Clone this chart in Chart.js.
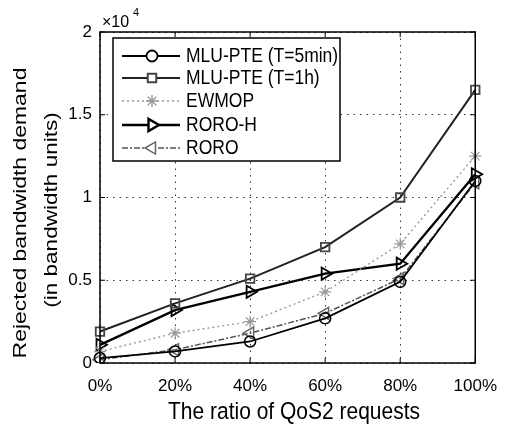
<!DOCTYPE html>
<html>
<head>
<meta charset="utf-8">
<script src="https://cdn.jsdelivr.net/npm/chart.js@4/dist/chart.umd.min.js"></script>
<style>
  html, body { margin: 0; padding: 0; background: #fff; }
  #wrap { width: 510px; height: 428px; }
</style>
</head>
<body>
<div id="wrap"><canvas id="myChart" width="510" height="428"></canvas></div>
<script>
// Datos del gráfico (x10^4 unidades)
const ratios = ['0%', '20%', '40%', '60%', '80%', '100%'];
const mluPte5min = [0.03, 0.07, 0.13, 0.27, 0.49, 1.10];
const mluPte1h = [0.19, 0.36, 0.51, 0.70, 1.00, 1.65];
const ewmop = [0.07, 0.18, 0.25, 0.43, 0.72, 1.25];
const roroH = [0.11, 0.32, 0.43, 0.54, 0.60, 1.14];
const roro = [0.02, 0.08, 0.18, 0.30, 0.51, 1.09];
const yTicks = [0, 0.5, 1, 1.5, 2];

const FONT = 'Arial, "Liberation Sans", sans-serif';

// texto estirado (como el escaneo)
function stretchedText(ctx, txt, x, y, size, sy, rot) {
    ctx.save();
    ctx.translate(x, y);
    if (rot) ctx.rotate(rot);
    if (rot) ctx.scale(sy, 1); else ctx.scale(1, sy);
    ctx.font = size + 'px ' + FONT;
    ctx.fillStyle = '#000';
    ctx.textAlign = 'center';
    ctx.textBaseline = 'middle';
    ctx.fillText(txt, 0, 0);
    ctx.restore();
}

const decorPlugin = {
    id: 'decor',
    afterDraw(chart) {
        const ctx = chart.ctx;
        const a = chart.chartArea;
        const xs = chart.scales.x, ys = chart.scales.y;

        // marco
        ctx.save();
        ctx.strokeStyle = '#000';
        ctx.lineWidth = 1.5;
        ctx.strokeRect(a.left, a.top, a.right - a.left, a.bottom - a.top);
        // marcas interiores
        ctx.lineWidth = 1;
        ratios.forEach((r, i) => {
            const px = xs.getPixelForValue(i);
            ctx.beginPath();
            ctx.moveTo(px, a.bottom); ctx.lineTo(px, a.bottom - 5);
            ctx.moveTo(px, a.top); ctx.lineTo(px, a.top + 5);
            ctx.stroke();
        });
        yTicks.forEach(v => {
            const py = ys.getPixelForValue(v);
            ctx.beginPath();
            ctx.moveTo(a.left, py); ctx.lineTo(a.left + 5, py);
            ctx.moveTo(a.right, py); ctx.lineTo(a.right - 5, py);
            ctx.stroke();
        });
        ctx.restore();

        // x10^4
        ctx.save();
        ctx.fillStyle = '#000';
        ctx.font = '16px ' + FONT;
        ctx.textBaseline = 'middle';
        ctx.fillText('\u00d710', 102, 23);
        ctx.font = '11px ' + FONT;
        ctx.fillText('4', 133, 13);
        ctx.restore();

        // títulos de ejes
        stretchedText(ctx, 'The ratio of QoS2 requests', 294, 413, 21, 1.1, 0);
        stretchedText(ctx, 'Rejected bandwidth demand', 21, 213, 18.5, 1.24, -Math.PI / 2);
        stretchedText(ctx, '(in bandwidth units)', 52, 210, 18.5, 1.22, -Math.PI / 2);

        // leyenda
        const box = { l: 113, t: 38, r: 340, b: 161 };
        ctx.save();
        ctx.fillStyle = '#fff';
        ctx.fillRect(box.l, box.t, box.r - box.l, box.b - box.t);
        ctx.strokeStyle = '#000';
        ctx.lineWidth = 1.5;
        ctx.strokeRect(box.l, box.t, box.r - box.l, box.b - box.t);
        ctx.restore();

        const rowsY = [56, 78, 101, 125, 148];
        chart.data.datasets.forEach((ds, i) => {
            const y = rowsY[i];
            ctx.save();
            ctx.strokeStyle = ds.borderColor;
            ctx.lineWidth = ds.borderWidth;
            ctx.setLineDash(ds.borderDash || []);
            ctx.beginPath();
            ctx.moveTo(122, y); ctx.lineTo(180, y);
            ctx.stroke();
            ctx.setLineDash([]);
            ctx.strokeStyle = ds.pointBorderColor;
            ctx.fillStyle = '#fff';
            Chart.helpers.drawPoint(ctx, {
                pointStyle: ds.pointStyle,
                rotation: ds.pointRotation || 0,
                radius: ds.pointRadius,
                borderWidth: ds.pointBorderWidth
            }, 152, y);
            ctx.restore();
            ctx.save();
            ctx.translate(186, y);
            ctx.scale(1, 1.15);
            ctx.font = '17.5px ' + FONT;
            ctx.fillStyle = '#000';
            ctx.textBaseline = 'middle';
            ctx.fillText(ds.label, 0, 0);
            ctx.restore();
        });
    }
};

function createChart() {
    const ctx = document.getElementById('myChart').getContext('2d');
    new Chart(ctx, {
        type: 'line',
        data: {
            labels: ratios,
            datasets: [
                {
                    label: 'MLU-PTE (T=5min)', data: mluPte5min,
                    borderColor: '#000', borderWidth: 1.8,
                    pointStyle: 'circle', pointRadius: 5.5, pointBorderWidth: 1.5,
                    pointBorderColor: '#000', pointBackgroundColor: 'rgba(255,255,255,0)'
                },
                {
                    label: 'MLU-PTE (T=1h)', data: mluPte1h,
                    borderColor: '#222', borderWidth: 2,
                    pointStyle: 'rect', pointRadius: 6, pointBorderWidth: 1.8,
                    pointBorderColor: '#444', pointBackgroundColor: 'rgba(255,255,255,0)'
                },
                {
                    label: 'EWMOP', data: ewmop,
                    borderColor: '#9a9a9a', borderWidth: 1.4, borderDash: [2, 3],
                    pointStyle: 'star', pointRadius: 6, pointBorderWidth: 1.2,
                    pointBorderColor: '#999', pointBackgroundColor: 'rgba(255,255,255,0)'
                },
                {
                    label: 'RORO-H', data: roroH,
                    borderColor: '#000', borderWidth: 2.4,
                    pointStyle: 'triangle', pointRotation: 90, pointRadius: 7, pointBorderWidth: 1.8,
                    pointBorderColor: '#000', pointBackgroundColor: 'rgba(255,255,255,0)'
                },
                {
                    label: 'RORO', data: roro,
                    borderColor: '#555', borderWidth: 1.5, borderDash: [6, 2, 2, 2],
                    pointStyle: 'triangle', pointRotation: -90, pointRadius: 7, pointBorderWidth: 1.5,
                    pointBorderColor: '#666', pointBackgroundColor: 'rgba(255,255,255,0)'
                }
            ]
        },
        options: {
            responsive: false,
            animation: false,
            layout: { padding: { top: 32, right: 20, left: 0, bottom: 0 } },
            elements: { line: { tension: 0 } },
            plugins: { legend: { display: false }, tooltip: { enabled: false } },
            scales: {
                x: {
                    offset: false,
                    grid: { color: '#333', lineWidth: 1, drawTicks: false },
                    border: { display: false, dash: [1.5, 5] },
                    ticks: { color: '#000', font: { size: 17, family: FONT }, padding: 13, maxRotation: 0 },
                    afterFit(s) { s.height = 65; }
                },
                y: {
                    min: 0, max: 2,
                    grid: { color: '#333', lineWidth: 1, drawTicks: false },
                    border: { display: false, dash: [1.5, 5] },
                    ticks: {
                        stepSize: 0.5, color: '#000', font: { size: 17, family: FONT }, padding: 8,
                        callback: v => String(Number(v))
                    },
                    afterFit(s) { s.width = 100; }
                }
            }
        },
        plugins: [decorPlugin]
    });
}

document.addEventListener('DOMContentLoaded', () => {
    createChart();
});
</script>
</body>
</html>
